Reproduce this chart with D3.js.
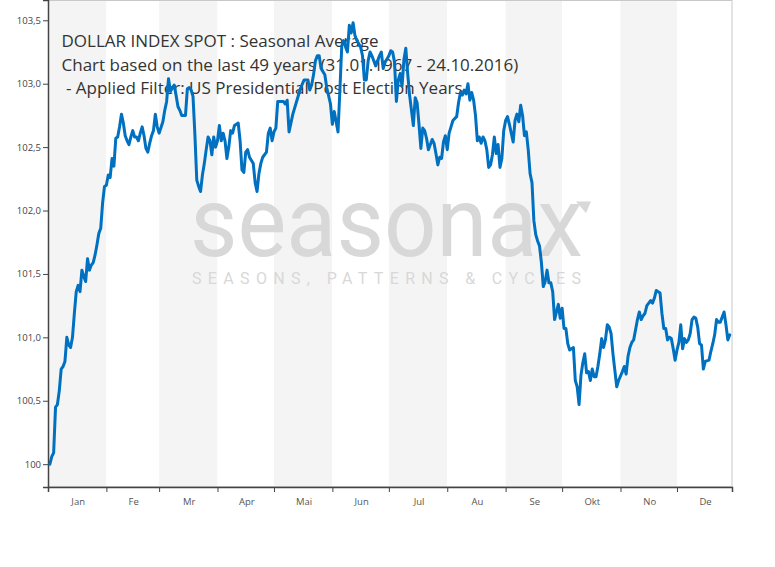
<!DOCTYPE html>
<html><head><meta charset="utf-8">
<script src="https://cdn.jsdelivr.net/npm/d3@7"></script>
<style>body{margin:0;background:#fff} svg{display:block}</style>
</head><body><svg id="c" width="775" height="567"></svg>
<script>
const titleLines = [
  "DOLLAR INDEX SPOT : Seasonal Average",
  "Chart based on the last 49 years (31.01.1967 - 24.10.2016)",
  " - Applied Filter: US Presidential Post Election Years"
];
const monthLabels = ["Jan","Fe","Mr","Apr","Mai","Jun","Jul","Au","Se","Okt","No","De"];
const yTickValues = [100, 100.5, 101, 101.5, 102, 102.5, 103, 103.5];
const yTickLabels = ["100","100,5","101,0","101,5","102,0","102,5","103,0","103,5"];
const watermarkMain = "seasonax";
const watermarkSub = "SEASONS, PATTERNS & CYCLES";

// day of year (0 = 1 January) of each point of the seasonal average
const days = [1,2,3,4,5,6,7,8,9,10,11,12,13,14,15,16,17,18,19,20,21,22,23,24,25,26,27,28,29,30,
31,32,33,34,35,36,37,38,39,40,41,42,43,44,45,46,47,48,49,50,51,52,53,54,55,56,57,58,59,
61,62,63,64,65,67,68,69,70,71,
73,74,75,76,77,78,79,80,81,82,83,84,85,86,87,88,89,90,91,92,93,94,95,96,97,98,99,100,101,102,103,
104,105,106,107,109,110,111,112,113,114,116,117,118,119,120,121,122,125,126,127,128,130,132,134,
136,137,138,139,140,141,142,143,144,145,147,148,150,151,152,
154,155,156,157,158,159,160,161,162,163,164,166,167,168,169,170,171,172,174,176,177,178,179,
181,182,183,184,185,186,187,188,189,190,191,192,194,195,196,197,198,199,200,201,202,
204,205,206,207,208,209,210,211,212,213,214,215,
217,218,219,220,221,222,223,224,225,226,227,228,229,230,231,232,233,234,235,236,237,238,239,240,241,242,243,244,245,246,
247,248,249,250,251,252,253,254,255,256,257,258,259,260,261,262,263,264,265,266,267,268,269,270,271,272,273,274,275,276,277,
279,280,281,282,283,284,285,286,287,288,289,290,291,292,293,294,295,296,297,298,299,300,301,302,303,
305,306,307,308,309,310,311,312,313,314,315,316,317,318,319,320,321,322,323,324,325,326,327,328,329,330,331,332,333,334,
335,336,337,338,339,340,341,342,343,344,345,346,347,348,349,351,352,353,354,355,356,357,358,359,360,361,362];
const values = [100.00,100.06,100.09,100.45,100.47,100.58,100.75,100.77,100.81,101.00,100.94,100.92,101.00,101.19,101.36,101.41,101.36,101.53,101.48,101.44,101.62,101.53,101.57,101.59,101.65,101.73,101.82,101.86,102.06,102.19,
102.20,102.28,102.26,102.41,102.35,102.57,102.58,102.66,102.76,102.69,102.59,102.55,102.52,102.58,102.63,102.58,102.58,102.55,102.61,102.66,102.59,102.49,102.46,102.53,102.59,102.63,102.76,102.66,102.61,102.70,
102.79,102.86,103.04,102.94,102.99,102.91,102.82,102.79,102.75,102.75,102.96,102.97,102.95,102.90,102.60,102.24,102.19,102.15,102.28,102.37,102.48,102.58,102.55,102.44,102.58,102.50,102.55,102.67,102.55,102.61,
102.55,102.41,102.50,102.63,102.61,102.67,102.68,102.69,102.55,102.32,102.30,102.46,102.48,102.42,102.37,102.22,102.15,102.29,102.37,102.42,102.46,102.61,102.65,102.55,102.62,102.65,102.86,102.86,102.84,102.87,
102.62,102.76,102.86,102.96,103.03,103.03,103.03,102.95,102.99,103.07,103.18,103.22,103.22,103.12,103.07,102.97,102.84,102.68,102.78,102.62,102.95,103.30,103.34,103.29,103.25,103.46,103.40,103.48,103.38,103.34,
103.29,103.22,103.03,103.03,103.18,103.25,103.22,103.14,103.22,103.25,103.12,103.17,103.22,103.26,103.25,103.17,102.86,103.03,103.08,102.98,103.19,103.28,103.08,102.91,102.67,102.89,102.85,102.68,102.49,102.65,
102.63,102.57,102.48,102.56,102.53,102.45,102.36,102.42,102.41,102.54,102.59,102.48,102.61,102.66,102.71,102.74,102.85,102.93,102.91,102.95,102.92,103.00,102.87,102.93,102.87,102.75,102.55,102.58,102.53,102.58,
102.55,102.48,102.34,102.36,102.44,102.58,102.45,102.52,102.34,102.41,102.63,102.71,102.74,102.68,102.61,102.54,102.71,102.76,102.70,102.83,102.75,102.59,102.62,102.48,102.29,102.22,101.92,101.81,101.76,101.72,
101.59,101.40,101.44,101.53,101.43,101.43,101.36,101.14,101.20,101.26,101.15,101.23,101.07,101.07,100.95,100.90,100.92,100.66,100.61,100.47,100.70,100.80,100.87,100.72,100.73,100.66,100.75,100.69,100.69,100.77,
100.87,100.99,100.92,100.98,101.10,101.08,101.03,100.87,100.74,100.61,100.66,100.73,100.77,100.71,100.85,100.92,100.96,100.98,101.06,101.14,101.20,101.14,101.17,101.19,101.25,101.27,101.29,101.27,101.31,101.37,
101.36,101.35,101.19,101.07,101.07,100.98,101.00,100.99,100.91,100.82,100.90,100.96,101.10,100.91,100.99,100.96,100.98,101.03,101.14,101.16,101.15,101.08,100.95,100.94,100.75,100.81,100.82,100.89,100.95,101.02,
101.14,101.12,101.12,101.16,101.20,101.10,100.98,101.02];

const yearStart = new Date(Date.UTC(2017, 0, 1));
const axisEnd = new Date(Date.UTC(2017, 11, 30, 5));
const data = days.map((d, i) => ({date: new Date(Date.UTC(2017, 0, 1 + d)), value: values[i]}));

const svg = d3.select("#c");
const m = {left: 48, right: 43, top: 0, bottom: 80};
const W = 775, H = 567;
const x = d3.scaleUtc().domain([yearStart, axisEnd]).range([m.left, W - m.right]);
const y = d3.scaleLinear().domain([99.82, 103.66]).range([H - m.bottom, m.top]);

// alternating month bands
const months = d3.utcMonths(yearStart, axisEnd);
const monthEnd = d => new Date(Math.min(+d3.utcMonth.offset(d, 1), +axisEnd));
svg.append("g").selectAll("rect").data(months).join("rect")
  .attr("x", d => x(d)).attr("y", m.top)
  .attr("width", d => x(monthEnd(d)) - x(d))
  .attr("height", (H - m.bottom) - m.top)
  .attr("fill", (d, i) => i % 2 === 0 ? "#f4f4f4" : "#ffffff");

// plot frame
svg.append("rect").attr("x", m.left + 0.5).attr("y", m.top + 0.5)
  .attr("width", (W - m.right) - m.left - 0.5).attr("height", (H - m.bottom) - m.top - 1)
  .attr("fill", "none").attr("stroke", "#c8c8c8").attr("stroke-width", 1);

// watermark
const wm = svg.append("g").attr("fill", "#d8d8d8");
const wmLeft = 190, wmWidth = 393;
wm.append("text").attr("x", wmLeft).attr("y", 256)
  .attr("font-family", "Roboto, 'DejaVu Sans', sans-serif").attr("font-size", 98)
  .attr("textLength", wmWidth).attr("lengthAdjust", "spacingAndGlyphs")
  .text(watermarkMain);
wm.append("text").attr("x", wmLeft + 2).attr("y", 283.5)
  .attr("font-family", "Roboto, 'DejaVu Sans', sans-serif").attr("font-size", 16)
  .attr("textLength", wmWidth - 4).attr("lengthAdjust", "spacing")
  .text(watermarkSub);
wm.append("path").attr("d", d3.line()([[576, 201.5], [591, 201.5], [586, 213]]) + "Z");

// title
const title = svg.append("g").attr("fill", "#333333")
  .attr("font-family", "'Open Sans', 'Noto Sans', sans-serif");
const tl = title.selectAll("text").data(titleLines).join("text")
  .attr("x", 61.5).attr("y", (d, i) => 47 + i * 23.5)
  .attr("font-size", 16)
  .attr("xml:space", "preserve")
  .style("white-space", "pre")
  .text(d => d);
const w2 = tl.nodes()[1].getComputedTextLength();
const fs = 16 * 457 / w2;
tl.attr("font-size", fs);

// axes
const xAxis = d3.axisBottom(x).tickValues(months).tickSize(5).tickFormat("");
const gx = svg.append("g").attr("transform", `translate(0,${H - m.bottom})`).call(xAxis);
gx.select(".domain").attr("stroke", "#444").attr("stroke-width", 1.5);
gx.selectAll(".tick line").attr("stroke", "#444");
svg.append("g").selectAll("text").data(months).join("text")
  .attr("x", d => (x(d) + x(monthEnd(d))) / 2 + 1)
  .attr("y", H - m.bottom + 18)
  .attr("text-anchor", "middle")
  .attr("font-family", "'Open Sans', 'Noto Sans', sans-serif").attr("font-size", 9.5)
  .attr("fill", "#555")
  .text((d, i) => monthLabels[i]);

const yAxis = d3.axisLeft(y).tickValues(yTickValues).tickSize(5)
  .tickFormat((d, i) => yTickLabels[i]);
const gy = svg.append("g").attr("transform", `translate(${m.left},0)`).call(yAxis);
gy.select(".domain").attr("stroke", "#444").attr("stroke-width", 1.5);
gy.selectAll(".tick line").attr("stroke", "#444");
gy.selectAll(".tick text").attr("font-family", "'Open Sans', 'Noto Sans', sans-serif")
  .attr("font-size", 9.5).attr("fill", "#444").attr("x", -7);

// seasonal line
svg.append("path").datum(data)
  .attr("fill", "none").attr("stroke", "#0070c0").attr("stroke-width", 3)
  .attr("stroke-linejoin", "round").attr("stroke-linecap", "round")
  .attr("d", d3.line().x(d => x(d.date)).y(d => y(d.value)));
</script>
</body></html>
